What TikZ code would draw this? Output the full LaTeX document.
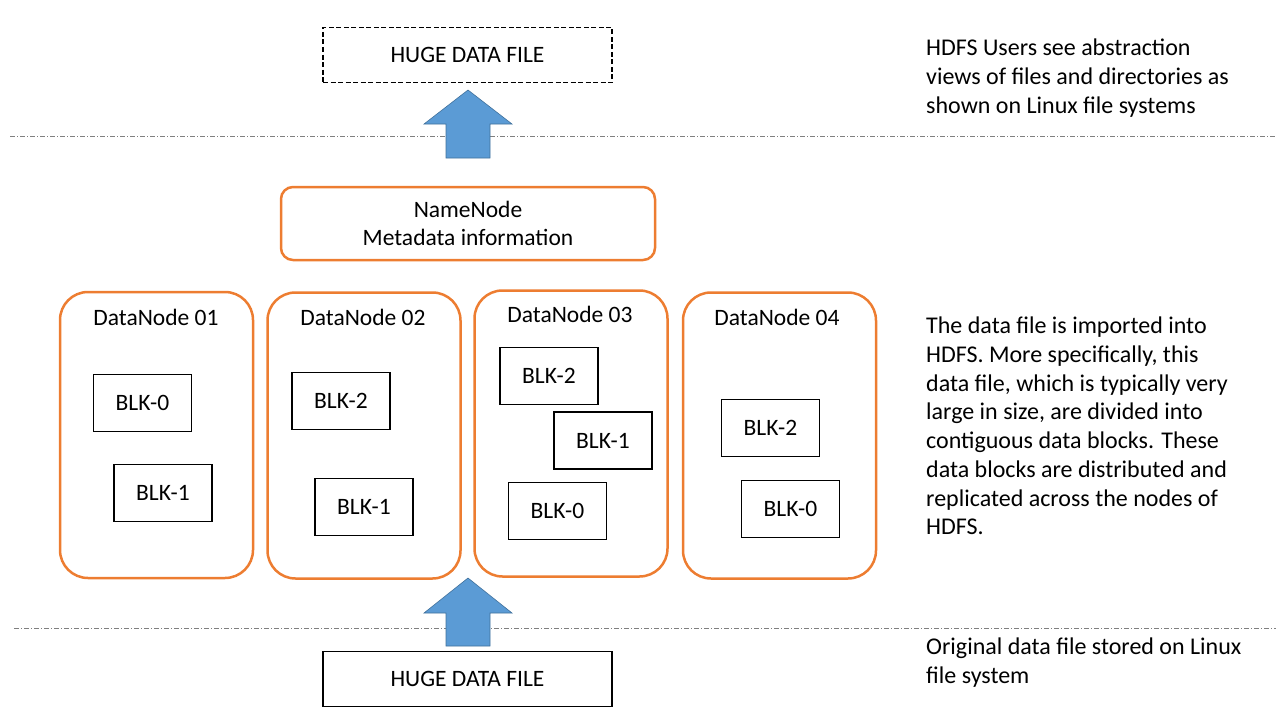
\documentclass[tikz,border=0pt]{standalone}
\usepackage{fontspec}
\setmainfont{Carlito}
\definecolor{dnorange}{HTML}{ED7D31}
\definecolor{arrowblue}{HTML}{5B9BD5}
\definecolor{arrowedge}{HTML}{41719C}
\definecolor{sepgray}{HTML}{7F7F7F}
\newcommand{\boxfont}{\fontsize{23.5}{28}\selectfont}
\newcommand{\notefont}{\fontsize{24}{28.7}\selectfont}
\tikzset{
  filebox/.style={draw, line width=1.8pt, minimum width=289pt, minimum height=55pt, inner sep=0pt, font=\boxfont},
  dnbox/.style={draw=dnorange, line width=2.5pt, rounded corners=28pt, minimum width=193pt, minimum height=286pt, inner sep=0pt},
  blkbox/.style={draw, line width=1.8pt, fill=white, minimum width=98pt, minimum height=57pt, inner sep=0pt, font=\boxfont},
  note/.style={anchor=north west, align=left, inner sep=0pt, font=\notefont},
  sepline/.style={draw=sepgray, line width=1pt, dash pattern=on 5pt off 2pt on 1pt off 2pt},
  blockarrow/.style={fill=arrowblue, draw=arrowedge, line width=0.6pt}
}
\begin{document}
\begin{tikzpicture}[x=1pt,y=-1pt]
\useasboundingbox (0,0) rectangle (1280,720);
% separators
\draw[sepline] (10,136) -- (1276,136);
\draw[sepline] (14,628) -- (1276,628);
% file boxes
\node[filebox, dash pattern=on 5pt off 2.5pt, line width=1.5pt] (topfile) at (467.5,55) {HUGE DATA FILE};
\node[filebox] (botfile) at (467.5,679) {HUGE DATA FILE};
% namenode
\node[draw=dnorange, line width=2.5pt, rounded corners=12pt, minimum width=374pt, minimum height=73pt, align=center, font=\boxfont] (namenode) at (468,223.5) {NameNode\\Metadata information};
% datanodes
\node[dnbox] (dn1) at (156.5,435) {};
\node[dnbox] (dn2) at (364,435.5) {};
\node[dnbox] (dn3) at (571,433.5) {};
\node[dnbox] (dn4) at (779.5,435.5) {};
\node[font=\boxfont] (dn1lbl) at (156,317) {DataNode 01};
\node[font=\boxfont] (dn2lbl) at (363,317) {DataNode 02};
\node[font=\boxfont] (dn3lbl) at (570,314) {DataNode 03};
\node[font=\boxfont] (dn4lbl) at (777,317) {DataNode 04};
% blocks
\node[blkbox] (dn1blk0) at (142.5,403) {BLK-0};
\node[blkbox] (dn1blk1) at (163,493) {BLK-1};
\node[blkbox] (dn2blk2) at (341,401) {BLK-2};
\node[blkbox] (dn2blk1) at (364,507) {BLK-1};
\node[blkbox] (dn3blk2) at (549,376) {BLK-2};
\node[blkbox] (dn3blk1) at (603,440.5) {BLK-1};
\node[blkbox] (dn3blk0) at (557.5,511) {BLK-0};
\node[blkbox] (dn4blk2) at (770.5,428) {BLK-2};
\node[blkbox] (dn4blk0) at (790.5,509) {BLK-0};
% block arrows
\filldraw[blockarrow] (446,158) -- (446,124) -- (424,124) -- (468,90) -- (512,124) -- (490,124) -- (490,158) -- cycle;
\filldraw[blockarrow] (446,646) -- (446,613) -- (424,613) -- (468,578) -- (512,613) -- (490,613) -- (490,646) -- cycle;
% notes
\node[note] (usernote) at (926,39) {HDFS Users see abstraction\\views of files and directories as\\shown on Linux file systems};
\node[note] (hdfsnote) at (926,317) {The data file is imported into\\HDFS. More specifically, this\\data file, which is typically very\\large in size,  are divided into\\contiguous data blocks. These\\data blocks are distributed and\\replicated across the nodes of\\HDFS.};
\node[note] (linuxnote) at (926,638) {Original data file stored on Linux\\file system};
\end{tikzpicture}
\end{document}
